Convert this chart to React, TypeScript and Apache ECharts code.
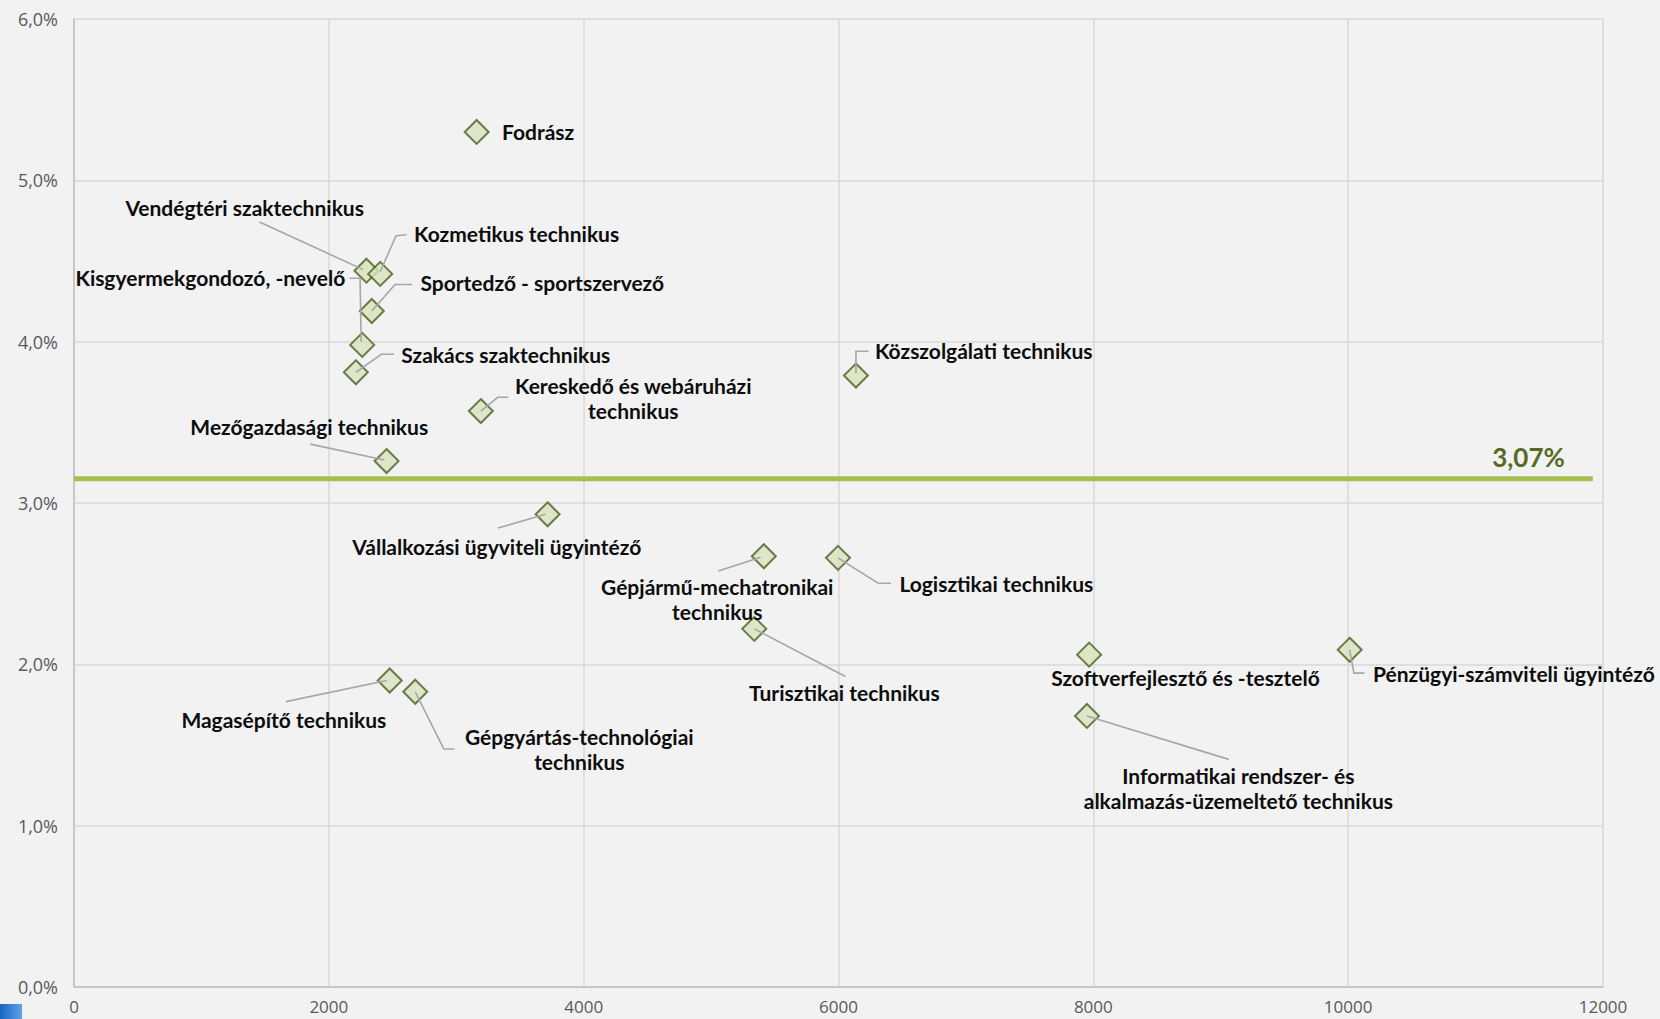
import React, { useEffect, useRef } from "react";
import * as echarts from "echarts";

const names = [
  "Fodrász",
  "Vendégtéri szaktechnikus",
  "Kozmetikus technikus",
  "Kisgyermekgondozó, -nevelő",
  "Sportedző - sportszervező",
  "Szakács szaktechnikus",
  "Kereskedő és webáruházi\ntechnikus",
  "Mezőgazdasági technikus",
  "Közszolgálati technikus",
  "Vállalkozási ügyviteli ügyintéző",
  "Gépjármű-mechatronikai\ntechnikus",
  "Logisztikai technikus",
  "Turisztikai technikus",
  "Szoftverfejlesztő és -tesztelő",
  "Pénzügyi-számviteli ügyintéző",
  "Informatikai rendszer- és\nalkalmazás-üzemeltető technikus",
  "Magasépítő technikus",
  "Gépgyártás-technológiai\ntechnikus",
];
const xValues = [3160, 2295, 2403, 2262, 2337, 2212, 3193, 2453, 6137, 3717, 5414, 5996, 5339, 7967, 10012, 7950, 2478, 2678];
const yValues = [5.3, 4.44, 4.42, 3.98, 4.19, 3.81, 3.57, 3.26, 3.79, 2.93, 2.67, 2.66, 2.22, 2.06, 2.09, 1.68, 1.9, 1.83];
const avgLineValue = 3.15;
const avgLineEndX = 11920;
const avgLabel = "3,07%";
const xTicks = [0, 2000, 4000, 6000, 8000, 10000, 12000];
const yTicks = [0, 1, 2, 3, 4, 5, 6];

// label placement relative to marker (reference px), with leader polylines
const K = 1.0587;
type Lay = { dx: number; dy: number; align: string; line?: number[][] };
const layouts: Lay[] = [
  { dx: 24, dy: 0, align: "left" },
  { dx: -115, dy: -60, align: "center", line: [[-101, -46], [-3, -1]] },
  { dx: 32, dy: -38, align: "left", line: [[0, -2], [15, -36], [25, -37]] },
  { dx: -16, dy: -64, align: "right", line: [[-12, -63], [-2, -63], [-1, -3]] },
  { dx: 46, dy: -27, align: "left", line: [[0, 0], [22, -25], [38, -25]] },
  { dx: 43, dy: -17, align: "left", line: [[0, 0], [24, -17], [36, -17]] },
  { dx: 144, dy: -12, align: "center", line: [[0, 0], [16, -13], [26, -13]] },
  { dx: -73, dy: -33, align: "center", line: [[-72, -16], [-2, -1]] },
  { dx: 18, dy: -24, align: "left", line: [[0, -2], [0, -23], [12, -23]] },
  { dx: -48, dy: 30, align: "center", line: [[-47, 13], [-2, 0]] },
  { dx: -44, dy: 40, align: "center", line: [[-43, 14], [-3, 1]] },
  { dx: 58, dy: 24, align: "left", line: [[0, 0], [38, 24], [50, 24]] },
  { dx: 85, dy: 60, align: "center", line: [[0, 0], [86, 45]] },
  { dx: 91, dy: 22, align: "center" },
  { dx: 22, dy: 22, align: "left", line: [[0, 0], [4, 22], [14, 22]] },
  { dx: 143, dy: 68, align: "center", line: [[0, 0], [134, 41]] },
  { dx: -100, dy: 37, align: "center", line: [[-98, 20], [-3, 0]] },
  { dx: 155, dy: 54, align: "center", line: [[0, 0], [27, 54], [37, 54]] },
];

const FONT = "Lato, 'Noto Sans', sans-serif";
const AXFONT = "'Open Sans', sans-serif";

export default function App() {
  const ref = useRef<HTMLDivElement>(null);
  useEffect(() => {
    document.body.style.margin = "0";
    const chart = echarts.init(ref.current!, null, { renderer: "svg" });
    const pts = xValues.map((x, i) => [x, yValues[i]]);
    chart.setOption({
      animation: false,
      backgroundColor: "#F2F2F2",
      grid: { left: 74, right: 57, top: 19, bottom: 32, containLabel: false },
      xAxis: {
        type: "value",
        min: xTicks[0],
        max: xTicks[xTicks.length - 1],
        interval: 2000,
        axisLine: { show: true, lineStyle: { color: "#BFBFBF", width: 1.5 } },
        axisTick: { show: false },
        splitLine: { show: true, lineStyle: { color: "#D9D9D9", width: 1.5 } },
        axisLabel: {
          color: "#595959",
          fontSize: 17,
          fontFamily: AXFONT,
          margin: 10,
          lineHeight: 18,
          formatter: (v: number) => String(v),
        },
      },
      yAxis: {
        type: "value",
        min: yTicks[0],
        max: yTicks[yTicks.length - 1],
        interval: 1,
        axisLine: { show: true, lineStyle: { color: "#BFBFBF", width: 1.5 } },
        axisTick: { show: false },
        splitLine: { show: true, lineStyle: { color: "#D9D9D9", width: 1.5 } },
        axisLabel: {
          color: "#595959",
          fontSize: 18,
          fontFamily: AXFONT,
          margin: 16,
          formatter: (v: number) => v.toFixed(1).replace(".", ",") + "%",
        },
      },
      graphic: [
        {
          type: "rect",
          left: 0,
          top: 1004,
          shape: { width: 22, height: 15 },
          style: {
            fill: new echarts.graphic.LinearGradient(0, 0, 1, 0, [
              { offset: 0, color: "#1565C0" },
              { offset: 1, color: "#5FA3E6" },
            ]),
          },
        },
      ],
      series: [
        {
          type: "line",
          data: [[0, avgLineValue], [avgLineEndX, avgLineValue]],
          symbol: "none",
          lineStyle: { color: "#A5C050", width: 5 },
          z: 1,
          silent: true,
          endLabel: {
            show: true,
            formatter: () => avgLabel,
            color: "#576B25",
            fontSize: 26,
            fontWeight: "bold",
            fontFamily: FONT,
            align: "right",
            verticalAlign: "bottom",
            offset: [-36, -9],
          },
        },
        {
          type: "scatter",
          data: pts,
          symbol: "diamond",
          symbolSize: [24, 24],
          itemStyle: { color: "#D7E4BD", borderColor: "#4A5E22", borderWidth: 2 },
          z: 3,
        },
        {
          type: "custom",
          data: pts,
          z: 5,
          silent: true,
          renderItem: (params: any, api: any) => {
            const i = params.dataIndex;
            const p = api.coord([api.value(0), api.value(1)]);
            const L = layouts[i];
            const children: any[] = [];
            if (L.line) {
              children.push({
                type: "polyline",
                shape: { points: L.line.map((q) => [p[0] + q[0] * K, p[1] + q[1] * K]) },
                style: { stroke: "#A6A6A6", lineWidth: 1.6, fill: "none" },
              });
            }
            children.push({
              type: "text",
              style: {
                text: names[i],
                x: p[0] + L.dx * K,
                y: p[1] + L.dy * K,
                align: L.align,
                verticalAlign: "middle",
                fill: "#0D0D0D",
                fontSize: 21,
                fontWeight: "bold",
                fontFamily: FONT,
                lineHeight: 25,
              },
            });
            return { type: "group", children };
          },
        },
      ],
    });
    return () => chart.dispose();
  }, []);
  return (
    <div
      ref={ref}
      style={{ position: "fixed", left: 0, top: 0, width: 1660, height: 1019, background: "#F2F2F2" }}
    />
  );
}
